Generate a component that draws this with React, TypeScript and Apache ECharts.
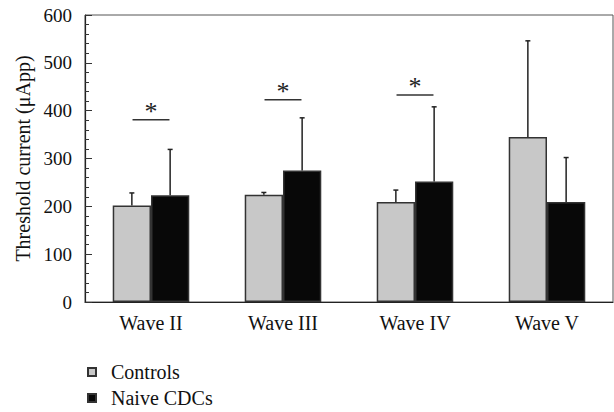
import React, { useEffect, useRef } from "react";
import * as echarts from "echarts";

const categories = ["Wave II", "Wave III", "Wave IV", "Wave V"];
const controlsMean = [202, 224, 209, 345];
const controlsUpper = [228, 229, 234, 546];
const naiveMean = [223, 275, 252, 209];
const naiveUpper = [319, 385, 408, 302];
const sigCats = [0, 1, 2];
const sigLevels = [381, 423, 433];
const yTicks = { min: 0, max: 600, interval: 100 };
const legendNames = ["Controls", "Naive CDCs"];

const FONT = "Liberation Serif";
const TXT = "#111";

export default function App() {
  const ref = useRef<HTMLDivElement>(null);
  useEffect(() => {
    const chart = echarts.init(ref.current!, null, { renderer: "svg" });
    const errData = [
      ...controlsMean.map((m, i) => [i, m, controlsUpper[i], -1]),
      ...naiveMean.map((m, i) => [i, m, naiveUpper[i], 1]),
    ];
    const sigData = sigCats.map((c, i) => [c, sigLevels[i]]);
    const legendBase = {
      orient: "vertical",
      left: 82,
      itemWidth: 8,
      itemHeight: 8,
      itemGap: 6,
      icon: "rect",
      textStyle: { fontFamily: FONT, fontSize: 20, color: TXT, padding: [0, 0, 0, 10] },
    };
    chart.setOption({
      animation: false,
      textStyle: { fontFamily: FONT },
      grid: {
        left: 85,
        right: 1,
        top: 15,
        bottom: 110,
        show: true,
        borderColor: "#555",
        borderWidth: 1,
        backgroundColor: "transparent",
      },
      legend: [
        { ...legendBase, data: [legendNames[0]], top: 357 },
        { ...legendBase, data: [legendNames[1]], top: 383 },
      ],
      xAxis: {
        type: "category",
        data: categories,
        axisLine: { lineStyle: { color: "#222", width: 1.2 } },
        axisTick: { show: false },
        axisLabel: { fontFamily: FONT, fontSize: 20, color: TXT, margin: 11 },
      },
      yAxis: {
        type: "value",
        min: yTicks.min,
        max: yTicks.max,
        interval: yTicks.interval,
        name: "Threshold current (μApp)",
        nameLocation: "middle",
        nameGap: 52,
        nameRotate: 90,
        nameTextStyle: { fontFamily: FONT, fontSize: 20, color: TXT },
        axisLine: { show: true, lineStyle: { color: "#222", width: 1.2 } },
        axisTick: { show: true, inside: true, length: 7, lineStyle: { color: "#333" } },
        minorTick: { show: true, splitNumber: 5, length: 4, lineStyle: { color: "#333" } },
        splitLine: { show: false },
        axisLabel: { fontFamily: FONT, fontSize: 19, color: TXT, margin: 13 },
      },
      series: [
        {
          name: legendNames[0],
          type: "bar",
          data: controlsMean,
          barGap: "0%",
          barCategoryGap: "42%",
          itemStyle: { color: "#c8c8c8", borderColor: "#333", borderWidth: 1.5 },
        },
        {
          name: legendNames[1],
          type: "bar",
          data: naiveMean,
          barGap: "0%",
          barCategoryGap: "42%",
          itemStyle: { color: "#080808", borderColor: "#333", borderWidth: 1.5 },
        },
        {
          type: "custom",
          name: "err",
          data: errData,
          z: 5,
          encode: { x: 0, y: 1 },
          renderItem: (params: any, api: any) => {
            const ci = api.value(0);
            const mean = api.value(1);
            const up = api.value(2);
            const side = api.value(3);
            const c = api.coord([ci, mean]);
            const t = api.coord([ci, up]);
            const bw = api.size([1, 0])[0];
            const x = c[0] + side * bw * 0.145;
            const st = { stroke: "#222", lineWidth: 1.5 };
            return {
              type: "group",
              children: [
                { type: "line", shape: { x1: x, y1: c[1], x2: x, y2: t[1] }, style: st },
                { type: "line", shape: { x1: x - 2.5, y1: t[1], x2: x + 2.5, y2: t[1] }, style: st },
              ],
            };
          },
        },
        {
          type: "custom",
          name: "sig",
          data: sigData,
          z: 5,
          encode: { x: 0, y: 1 },
          renderItem: (params: any, api: any) => {
            const ci = api.value(0);
            const lv = api.value(1);
            const p = api.coord([ci, lv]);
            const bw = api.size([1, 0])[0];
            const half = bw * 0.14;
            return {
              type: "group",
              children: [
                {
                  type: "line",
                  shape: { x1: p[0] - half, y1: p[1], x2: p[0] + half, y2: p[1] },
                  style: { stroke: "#333", lineWidth: 1.5 },
                },
                {
                  type: "text",
                  style: {
                    text: "*",
                    x: p[0],
                    y: p[1] + 5,
                    textAlign: "center",
                    textVerticalAlign: "bottom",
                    font: "26px Liberation Serif",
                    fill: "#222",
                  },
                },
              ],
            };
          },
        },
      ],
    });
    return () => chart.dispose();
  }, []);
  return (
    <div
      ref={ref}
      style={{ position: "fixed", left: 0, top: 0, width: 614, height: 412, background: "#fff" }}
    />
  );
}
